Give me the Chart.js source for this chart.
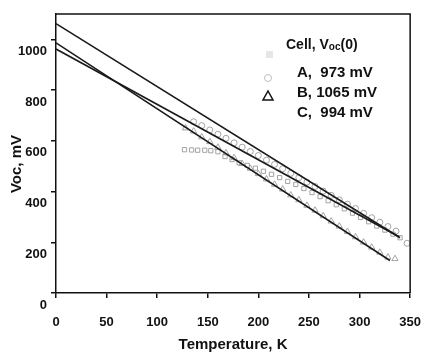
<!DOCTYPE html>
<html>
<head>
<meta charset="utf-8">
<script src="https://cdn.jsdelivr.net/npm/chart.js@4.4.1/dist/chart.umd.min.js"></script>
<style>
  html, body { margin: 0; padding: 0; background: #fff; }
  #wrap { width: 438px; height: 355px; }
</style>
</head>
<body>
<div id="wrap"><canvas id="vocChart" width="438" height="355"></canvas></div>
<script>
// Voc vs temperature, three cells
const xTicks = [0, 50, 100, 150, 200, 250, 300, 350];
const yTicks = [0, 200, 400, 600, 800, 1000];

// fitted lines (T in K, Voc in mV)
const fitT_A = [0, 339];
const fitV_A = [962, 222];
const fitT_B = [0, 340];
const fitV_B = [1062, 218];
const fitT_C = [0, 330];
const fitV_C = [986, 128];

// measured points
const tA = [127, 134, 140, 147, 153, 160, 167, 174, 181, 189, 197, 205, 213, 221, 229, 237, 245, 253, 261, 269, 277, 285, 293, 301, 309, 317, 325, 333, 340];
const vA = [565, 564, 563, 563, 561, 557, 538, 526, 513, 503, 492, 480, 468, 455, 440, 428, 412, 396, 380, 364, 348, 332, 315, 298, 281, 264, 248, 232, 218];

const tB = [136, 144, 152, 160, 168, 176, 184, 192, 200, 208, 216, 224, 232, 240, 248, 256, 264, 272, 280, 288, 296, 304, 312, 320, 328, 336, 347];
const vB = [675, 660, 643, 626, 610, 592, 575, 558, 542, 524, 507, 490, 472, 455, 437, 420, 402, 385, 367, 350, 333, 314, 297, 279, 262, 244, 196];

const tC = [128, 136, 144, 152, 160, 168, 176, 184, 192, 200, 208, 216, 224, 232, 240, 248, 256, 264, 272, 280, 288, 296, 304, 312, 320, 328, 335];
const vC = [650, 638, 615, 596, 574, 552, 533, 510, 491, 470, 449, 428, 409, 386, 367, 345, 326, 304, 283, 263, 242, 221, 200, 180, 160, 141, 135];

const legendLabels = ["A,  973 mV", "B, 1065 mV", "C,  994 mV"];

const FONT = "'Liberation Sans', Arial, Helvetica, sans-serif";

const toPoints = (xs, ys) => xs.map((x, i) => ({ x: x, y: ys[i] }));

const markerSet = (label, xs, ys, style, radius) => ({
  label,
  data: toPoints(xs, ys),
  showLine: false,
  pointStyle: style,
  pointRadius: radius,
  pointBorderColor: "#9a9a9a",
  pointBackgroundColor: "rgba(255,255,255,0)",
  pointBorderWidth: 0.9,
  order: 2,
});

const fitSet = (label, xs, ys) => ({
  label,
  data: toPoints(xs, ys),
  showLine: true,
  borderColor: "#1a1a1a",
  borderWidth: 1.6,
  pointRadius: 0,
  order: 1,
});

// frame, y title and the hand-laid legend
const decorPlugin = {
  id: "decor",
  afterDraw(chart) {
    const ctx = chart.ctx;
    const a = chart.chartArea;
    ctx.save();
    ctx.strokeStyle = "#111";
    ctx.lineWidth = 1.5;
    ctx.beginPath();
    ctx.moveTo(a.left, a.top);
    ctx.lineTo(a.right, a.top);
    ctx.lineTo(a.right, a.bottom);
    ctx.stroke();

    // y title
    ctx.fillStyle = "#111";
    ctx.translate(17, 164);
    ctx.rotate(-Math.PI / 2);
    ctx.font = "bold 15px " + FONT;
    ctx.textAlign = "center";
    ctx.textBaseline = "middle";
    ctx.fillText("Voc, mV", 0, 0);
    ctx.setTransform(1, 0, 0, 1, 0, 0);

    // legend title with small "oc"
    ctx.textAlign = "left";
    ctx.textBaseline = "middle";
    let x = 286;
    const ty = 45;
    ctx.font = "bold 14px " + FONT;
    ctx.fillText("Cell, V", x, ty);
    x += ctx.measureText("Cell, V").width;
    ctx.font = "bold 10px " + FONT;
    ctx.fillText("oc", x, ty + 2);
    x += ctx.measureText("oc").width;
    ctx.font = "bold 14px " + FONT;
    ctx.fillText("(0)", x, ty);

    ctx.font = "bold 15px " + FONT;
    const rows = [73, 93, 113];
    legendLabels.forEach((t, i) => ctx.fillText(t, 297, rows[i]));

    // legend markers (offset one row up, as in the original)
    ctx.fillStyle = "#e6e6e6";
    ctx.fillRect(266, 51, 7, 7);
    ctx.strokeStyle = "#bdbdbd";
    ctx.lineWidth = 1;
    ctx.beginPath();
    ctx.arc(268, 78, 3.5, 0, Math.PI * 2);
    ctx.stroke();
    ctx.strokeStyle = "#111";
    ctx.lineWidth = 1.5;
    ctx.beginPath();
    ctx.moveTo(268, 91);
    ctx.lineTo(273, 100);
    ctx.lineTo(263, 100);
    ctx.closePath();
    ctx.stroke();
    ctx.restore();
  },
};

const ctx = document.getElementById("vocChart").getContext("2d");

new Chart(ctx, {
  type: "scatter",
  data: {
    datasets: [
      fitSet("A fit", fitT_A, fitV_A),
      fitSet("B fit", fitT_B, fitV_B),
      fitSet("C fit", fitT_C, fitV_C),
      markerSet("A", tA, vA, "rect", 3),
      markerSet("B", tB, vB, "circle", 3),
      markerSet("C", tC, vC, "triangle", 3.6),
    ],
  },
  options: {
    responsive: false,
    animation: false,
    layout: { padding: { left: 0, right: 12, top: 14, bottom: 0 } },
    plugins: {
      legend: { display: false },
      tooltip: { enabled: false },
    },
    scales: {
      x: {
        type: "linear",
        min: 0,
        max: 350,
        afterFit: (scale) => { scale.height = 62; },
        afterBuildTicks: (scale) => { scale.ticks = xTicks.map((v) => ({ value: v })); },
        grid: { drawOnChartArea: false, drawTicks: true, tickLength: 5, color: "#111", lineWidth: 1.5 },
        border: { display: true, color: "#111", width: 1.5 },
        ticks: {
          color: "#111",
          padding: 17,
          maxRotation: 0,
          callback: (v) => String(v),
          font: { family: FONT, size: 13, weight: "bold" },
        },
        title: {
          display: true,
          text: "Temperature, K",
          color: "#111",
          padding: { top: 0, bottom: 1 },
          font: { family: FONT, size: 15, weight: "bold" },
        },
      },
      y: {
        type: "linear",
        min: 0,
        max: 1100,
        afterFit: (scale) => { scale.width = 56; },
        afterBuildTicks: (scale) => { scale.ticks = yTicks.map((v) => ({ value: v })); },
        grid: { drawOnChartArea: false, drawTicks: true, tickLength: 5, color: "#111", lineWidth: 1.5 },
        border: { display: true, color: "#111", width: 1.5 },
        ticks: {
          color: "#111",
          padding: 4,
          labelOffset: 12,
          callback: (v) => String(v),
          font: { family: FONT, size: 13, weight: "bold" },
        },
      },
    },
  },
  plugins: [decorPlugin],
});
</script>
</body>
</html>
